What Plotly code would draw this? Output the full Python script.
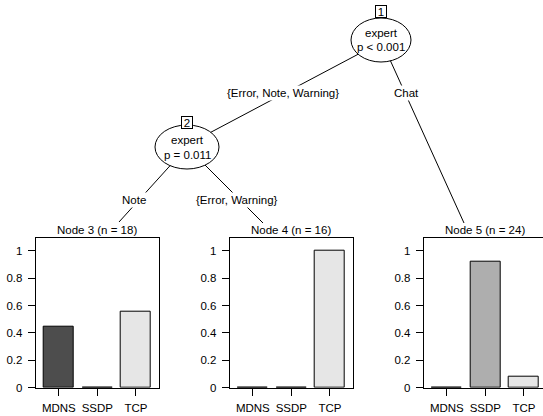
import plotly.graph_objects as go

W, H = 543, 416

# ---- data ----
classes = ["MDNS", "SSDP", "TCP"]
class_colors = ["#4D4D4D", "#AEAEAE", "#E6E6E6"]
node3_props = [0.444, 0.0, 0.556]
node4_props = [0.0, 0.0, 1.0]
node5_props = [0.0, 0.917, 0.083]
node_ids = [3, 4, 5]
node_n = [18, 16, 24]
ytick_vals = [0, 0.2, 0.4, 0.6, 0.8, 1]
ytick_text = ["0", "0.2", "0.4", "0.6", "0.8", "1"]
edge_labels_1 = ["{Error, Note, Warning}", "Chat"]
edge_labels_2 = ["Note", "{Error, Warning}"]
inner_var = ["expert", "expert"]
inner_p = ["p &lt; 0.001", "p = 0.011"]

FONT = "Liberation Sans, Arial, Helvetica, sans-serif"
FS = 11.5


def X(px):
    return px / W


def Y(py):
    return 1 - py / H


fig = go.Figure()

# ---- terminal panels ----
panel_left = [35.7, 229.7, 423.7]
panel_w = 123.3
unit_px = panel_w / 3.2
top_px, bot_px = 237.7, 387.7
props_all = [node3_props, node4_props, node5_props]

for i, props in enumerate(props_all):
    k = "" if i == 0 else str(i + 1)
    fig.add_trace(go.Bar(
        x=[1, 2, 3], y=props,
        marker=dict(color=class_colors, line=dict(color="black", width=1)),
        width=0.78, showlegend=False, hoverinfo="skip",
        xaxis="x" + k, yaxis="y" + k,
    ))
    left = panel_left[i]
    right = min(left + panel_w, W)
    xr = [0.4, 0.4 + (right - left) / unit_px]
    last = (right < left + panel_w - 0.5)
    fig.update_layout(**{
        "xaxis" + k: dict(
            domain=[X(left), X(right)], range=xr, anchor="y" + k,
            showline=True, mirror=True, linecolor="black", linewidth=1,
            ticks="outside", ticklen=7, tickwidth=1, tickcolor="black",
            tickvals=[1, 2, 3], ticktext=classes, ticklabelstandoff=2,
            showgrid=False, zeroline=False, fixedrange=True, automargin=False,
            tickfont=dict(family=FONT, size=FS, color="black"),
        ),
        "yaxis" + k: dict(
            domain=[Y(bot_px), Y(top_px)], range=[0, 1.095], anchor="x" + k,
            showline=True, mirror=(not last), linecolor="black", linewidth=1,
            ticks="outside", ticklen=7, tickwidth=1, tickcolor="black",
            tickvals=ytick_vals, ticktext=ytick_text, ticklabelstandoff=3,
            showgrid=False, zeroline=False, fixedrange=True, automargin=False,
            tickfont=dict(family=FONT, size=FS, color="black"),
        ),
    })
    cx = left + panel_w / 2
    fig.add_annotation(x=X(cx), y=Y(230), xref="paper", yref="paper",
                       text=f"Node {node_ids[i]} (n = {node_n[i]})",
                       showarrow=False, xanchor="center", yanchor="middle",
                       font=dict(family=FONT, size=FS, color="black"))

# ---- tree structure ----
shapes = []
edges = [((385, 40), (183, 147)), ((381, 40), (464, 223)),
         ((187, 147), (119, 222)), ((187, 147), (263, 223))]
for (x0, y0), (x1, y1) in edges:
    shapes.append(dict(type="line", xref="paper", yref="paper",
                       x0=X(x0), y0=Y(y0), x1=X(x1), y1=Y(y1),
                       line=dict(color="black", width=1)))

inner_nodes = [(1, 381, 40, 30, 22, 11), (2, 187, 147, 32, 22, 123)]
for nid, cx, cy, rx, ry, by in inner_nodes:
    shapes.append(dict(type="circle", xref="paper", yref="paper",
                       x0=X(cx - rx), x1=X(cx + rx), y0=Y(cy - ry), y1=Y(cy + ry),
                       fillcolor="white", line=dict(color="black", width=1)))

fig.update_layout(shapes=shapes)

for j, (nid, cx, cy, rx, ry, by) in enumerate(inner_nodes):
    fig.add_annotation(x=X(cx), y=Y(by), xref="paper", yref="paper",
                       text=str(nid), showarrow=False, bgcolor="white",
                       bordercolor="black", borderwidth=1, borderpad=0,
                       width=10, height=11, xanchor="center", yanchor="middle",
                       font=dict(family=FONT, size=FS, color="black"))
    fig.add_annotation(x=X(cx), y=Y(cy - 7), xref="paper", yref="paper",
                       text=inner_var[j], showarrow=False,
                       xanchor="center", yanchor="middle",
                       font=dict(family=FONT, size=FS, color="black"))
    fig.add_annotation(x=X(cx), y=Y(cy + 7.5), xref="paper", yref="paper",
                       text=inner_p[j], showarrow=False,
                       xanchor="center", yanchor="middle",
                       font=dict(family=FONT, size=FS, color="black"))

label_pos = [(283, 93), (406, 93), (134, 199.5), (237, 200)]
for txt, (lx, ly) in zip(edge_labels_1 + edge_labels_2, label_pos):
    fig.add_annotation(x=X(lx), y=Y(ly), xref="paper", yref="paper",
                       text=txt, showarrow=False, bgcolor="white", borderpad=1,
                       xanchor="center", yanchor="middle",
                       font=dict(family=FONT, size=FS, color="black"))

fig.update_layout(
    width=W, height=H, margin=dict(l=0, r=0, t=0, b=0, autoexpand=False),
    paper_bgcolor="white", plot_bgcolor="white",
    font=dict(family=FONT, size=FS, color="black"),
    bargap=0,
)

fig.write_html("out.html")
